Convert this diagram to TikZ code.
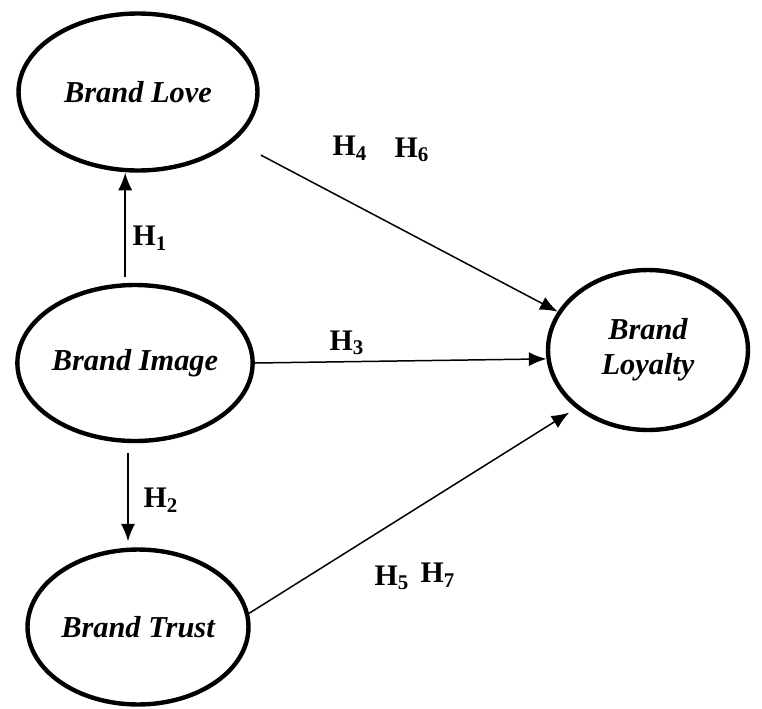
\documentclass[tikz,border=0pt]{standalone}
\usepackage{fontspec}
\setmainfont{Liberation Serif}
\usetikzlibrary{arrows.meta}
\usetikzlibrary{shapes.geometric}

\tikzset{
  construct/.style={ellipse, draw, line width=2.5pt, inner sep=0pt, align=center,
    font=\fontsize{17.3}{20}\selectfont\bfseries\itshape},
  hyp/.style={inner sep=0pt, font=\fontsize{17}{19}\selectfont\bfseries},
  link/.style={->, line width=0.85pt}
}

\begin{document}
\begin{tikzpicture}[x=0.02cm, y=-0.02cm, >={Latex[length=10pt,width=8pt]}]
        \useasboundingbox (0,0) rectangle (762,708);

        % constructs
        \node[construct, minimum width=4.78cm, minimum height=3.14cm] (love) at (138,92) {Brand Love};
        \node[construct, minimum width=4.42cm, minimum height=3.12cm] (image) at (135,363) {Brand Image};
        \node[construct, minimum width=4.42cm, minimum height=3.1cm] (trust) at (138,627) {Brand Trust};
        \node[construct, minimum width=4.0cm, minimum height=3.2cm] (loyalty) at (648,350) {Brand\\Loyalty};

        % hypotheses
        \draw[link, shorten <=0.12cm] (image.97) -- (image.97 |- love.south);
        \draw[link, shorten <=0.2cm, shorten >=0.12cm] (image.265) -- (image.265 |- trust.north);
        \draw[link] (image.east) -- (loyalty.185);
        \draw[link, shorten <=0.6cm] (love.333) -- (loyalty.157);
        \draw[link, shorten >=0.16cm] (trust.7) -- (loyalty.219);

        \node[hyp] (h1) at (150,238) {H\textsubscript{1}};
        \node[hyp] (h2) at (161,500) {H\textsubscript{2}};
        \node[hyp] (h3) at (347,343) {H\textsubscript{3}};
        \node[hyp] (h4) at (350,148) {H\textsubscript{4}};
        \node[hyp] (h6) at (412,150) {H\textsubscript{6}};
        \node[hyp] (h5) at (392,578) {H\textsubscript{5}};
        \node[hyp] (h7) at (438,575) {H\textsubscript{7}};
\end{tikzpicture}
\end{document}
